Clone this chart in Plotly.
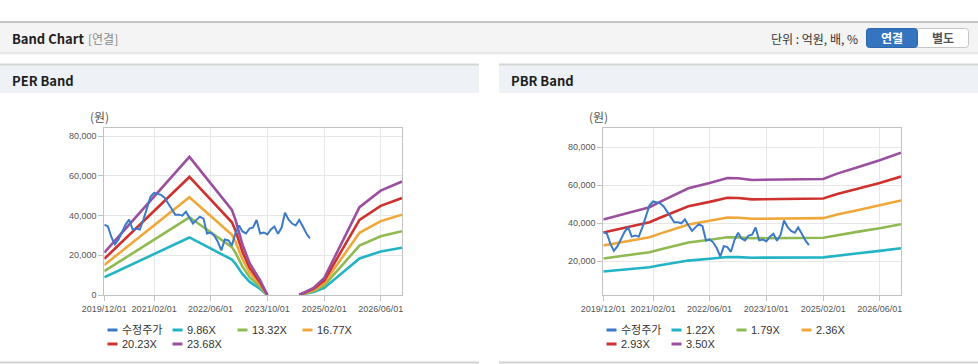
import pandas as pd
import plotly.graph_objects as go

# ---------------- data ----------------
tick_dates = ["2019-12-01", "2021-02-01", "2022-06-01", "2023-10-01", "2025-02-01", "2026-06-01"]
tick_labels = ["2019/12/01", "2021/02/01", "2022/06/01", "2023/10/01", "2025/02/01", "2026/06/01"]

# adjusted stock price (monthly, 2019/12 .. 2024/10)
stock_price = [35500, 34500, 29000, 25500, 28000, 32000, 35500, 38000, 33000, 33500,
               33000, 38000, 44000, 49500, 51500, 51000, 50500, 49000, 46500, 43500,
               40500, 40500, 40000, 42000, 39000, 36000, 38000, 39500, 38500, 31000,
               31500, 30000, 27000, 22500, 28000, 27500, 25000, 31200, 35000, 32000,
               31000, 33500, 34000, 37800, 31000, 31500, 30500, 33000, 34500, 30800,
               34000, 41500, 38000, 36000, 35000, 37800, 34500, 31000, 28500]
stock_start = "2019-12-01"

# PER band: EPS
per_dates = ["2019-12-01", "2020-12-01", "2021-12-01", "2022-12-01", "2023-01-01",
             "2023-03-01", "2023-05-01", "2023-08-01", "2023-09-01", "2023-10-01",
             "2024-02-01",
             "2024-07-01", "2024-11-01", "2025-02-01", "2025-12-01", "2026-06-01",
             "2026-12-01"]
per_eps = [900, 1930, 2940, 1810, 1600, 1080, 680, 310, 160, 0,
           None,
           0, 150, 360, 1870, 2220, 2415]
per_mult = [9.86, 13.32, 16.77, 20.23, 23.68]
per_names = ["9.86X", "13.32X", "16.77X", "20.23X", "23.68X"]

# PBR band: BPS
pbr_dates = ["2019-12-01", "2020-04-01", "2020-08-01", "2021-01-01", "2021-04-01",
             "2021-08-01", "2021-12-01", "2022-06-01", "2022-11-01", "2023-02-01",
             "2023-06-01", "2025-02-01", "2025-06-01", "2025-12-01", "2026-06-01",
             "2026-12-01"]
pbr_bps = [12000, 12600, 13150, 13850, 14650, 15700, 16700, 17500, 18250, 18200,
           17950, 18100, 18900, 19900, 20900, 22050]
pbr_mult = [1.22, 1.79, 2.36, 2.93, 3.50]
pbr_names = ["1.22X", "1.79X", "2.36X", "2.93X", "3.50X"]

stock_name = "수정주가"
per_yticks = [0, 20000, 40000, 60000, 80000]
pbr_yticks = [20000, 40000, 60000, 80000]

# ---------------- style ----------------
W, H = 978, 364
STOCK_COLOR = "#3b79c9"
BAND_COLORS = ["#22b3c5", "#8fba52", "#f0a73a", "#cf322e", "#9a4f9f"]
TICK_FONT = dict(family="Liberation Sans, Arial, sans-serif", size=9, color="#555555")
LEG_FONT = dict(family="Liberation Sans, Noto Sans CJK KR, sans-serif", size=11, color="#333333")
KR = "Noto Sans CJK KR, sans-serif"


def px(x):
    return x / W


def py(y):
    return (H - y) / H


stock_dates = pd.date_range(stock_start, periods=len(stock_price), freq="MS")

fig = go.Figure()

# PER bands
for k, nm, col in zip(per_mult, per_names, BAND_COLORS):
    fig.add_trace(go.Scatter(
        x=per_dates, y=[None if e is None else e * k for e in per_eps],
        mode="lines", name=nm, line=dict(color=col, width=2.6),
        xaxis="x", yaxis="y", showlegend=False, connectgaps=False))
fig.add_trace(go.Scatter(x=stock_dates, y=stock_price, mode="lines", name=stock_name,
                         line=dict(color=STOCK_COLOR, width=2), xaxis="x", yaxis="y",
                         showlegend=False))

# PBR bands
for k, nm, col in zip(pbr_mult, pbr_names, BAND_COLORS):
    fig.add_trace(go.Scatter(
        x=pbr_dates, y=[b * k for b in pbr_bps],
        mode="lines", name=nm, line=dict(color=col, width=2.6),
        xaxis="x2", yaxis="y2", showlegend=False))
fig.add_trace(go.Scatter(x=stock_dates, y=stock_price, mode="lines", name=stock_name,
                         line=dict(color=STOCK_COLOR, width=2), xaxis="x2", yaxis="y2",
                         showlegend=False))

AX = dict(showgrid=True, gridcolor="#e7e7e7", gridwidth=1, showline=True,
          linecolor="#c2c2c2", linewidth=1, mirror=True, ticks="outside",
          ticklen=5, tickcolor="#c2c2c2", tickfont=TICK_FONT, zeroline=False,
          fixedrange=True, automargin=False)

xr = ["2019-12-01", "2026-12-01"]
ydom = [py(295), py(128.3)]
fig.update_layout(
    width=W, height=H, autosize=False,
    margin=dict(l=0, r=0, t=0, b=0, pad=0, autoexpand=False),
    paper_bgcolor="white", plot_bgcolor="white",
    showlegend=False,
    xaxis=dict(AX, type="date", range=xr, tickvals=tick_dates, ticktext=tick_labels,
               domain=[px(104.3), px(402)], anchor="y"),
    yaxis=dict(AX, range=[0, 84000], tickvals=per_yticks,
               ticktext=[f"{v:,}" for v in per_yticks], domain=ydom, anchor="x"),
    xaxis2=dict(AX, type="date", range=xr, tickvals=tick_dates, ticktext=tick_labels,
                domain=[px(603.3), px(901)], anchor="y2"),
    yaxis2=dict(AX, range=[2260, 90000], tickvals=pbr_yticks,
                ticktext=[f"{v:,}" for v in pbr_yticks], domain=ydom, anchor="x2"),
)

shapes = []


def rect(x0, y0, x1, y1, fill, line=None, lw=0):
    shapes.append(dict(type="rect", xref="paper", yref="paper", x0=px(x0), x1=px(x1),
                       y0=py(y1), y1=py(y0), fillcolor=fill,
                       line=dict(color=line or fill, width=lw), layer="below"))


def hline(x0, x1, y, color, w):
    shapes.append(dict(type="line", xref="paper", yref="paper", x0=px(x0), x1=px(x1),
                       y0=py(y), y1=py(y), line=dict(color=color, width=w)))


def rrect(x0, y0, x1, y1, r, fill, line, lw=1):
    p = (f"M {px(x0 + r)},{py(y0)} L {px(x1 - r)},{py(y0)} "
         f"Q {px(x1)},{py(y0)} {px(x1)},{py(y0 + r)} L {px(x1)},{py(y1 - r)} "
         f"Q {px(x1)},{py(y1)} {px(x1 - r)},{py(y1)} L {px(x0 + r)},{py(y1)} "
         f"Q {px(x0)},{py(y1)} {px(x0)},{py(y1 - r)} L {px(x0)},{py(y0 + r)} "
         f"Q {px(x0)},{py(y0)} {px(x0 + r)},{py(y0)} Z")
    shapes.append(dict(type="path", xref="paper", yref="paper", path=p,
                       fillcolor=fill, line=dict(color=line, width=lw)))


# top header bar
rect(0, 22, 978, 52.5, "#f4f4f4")
hline(0, 978, 22, "#c4c4c4", 2)
hline(0, 978, 53, "#d2d2d2", 1)
hline(0, 978, 54, "#ececec", 1)
# buttons
rrect(866.5, 28.5, 968.5, 47.5, 3, "#ffffff", "#c6c6c6")
rrect(866.5, 28.5, 917.5, 47.5, 3, "#3574bf", "#2c66ab")

# panel headers
for (a, b) in [(0, 479), (499, 978)]:
    rect(a, 64, b, 93, "#eef2f7")
    hline(a, b, 64.5, "#d6d6d6", 2)
    hline(a, b, 362.5, "#d2d2d2", 2)

annotations = []


def text(x, y, s, size=12, color="#333", family=KR, anchor="left"):
    annotations.append(dict(xref="paper", yref="paper", x=px(x), y=py(y), text=s,
                            showarrow=False, xanchor=anchor, yanchor="middle",
                            font=dict(size=size, color=color, family=family)))


text(10, 38.5, "<b>Band Chart</b>", size=13, color="#1e1e1e")
text(86, 38.5, "[연결]", size=12, color="#8a8a8a")
text(860, 38.5, "단위 : 억원, 배, %", size=12, color="#333333", anchor="right")
text(892, 38, "<b>연결</b>", size=12, color="#ffffff", anchor="center")
text(943, 38, "<b>별도</b>", size=12, color="#555555", anchor="center")

text(10, 80.5, "<b>PER Band</b>", size=13, color="#1e1e1e")
text(509, 80.5, "<b>PBR Band</b>", size=13, color="#1e1e1e")

text(99, 117, "(원)", size=12, color="#555555", anchor="center")
text(598, 117, "(원)", size=12, color="#555555", anchor="center")

# custom legends
def legend(x0, names):
    cols = [STOCK_COLOR] + BAND_COLORS
    for i, (nm, col) in enumerate(zip(names, cols)):
        r, c = divmod(i, 4)
        x = x0 + c * 65
        y = 330 + r * 14
        shapes.append(dict(type="line", xref="paper", yref="paper", x0=px(x),
                           x1=px(x + 10), y0=py(y), y1=py(y),
                           line=dict(color=col, width=3)))
        annotations.append(dict(xref="paper", yref="paper", x=px(x + 12), y=py(y),
                                text=nm, showarrow=False, xanchor="left",
                                yanchor="middle", font=LEG_FONT))


legend(107.5, [stock_name] + per_names)
legend(606.5, [stock_name] + pbr_names)

fig.update_layout(shapes=shapes, annotations=annotations)

fig.write_html("out.html", config={"displayModeBar": False, "staticPlot": True},
               post_script="document.body.style.margin='0';document.body.style.overflow='hidden';")
